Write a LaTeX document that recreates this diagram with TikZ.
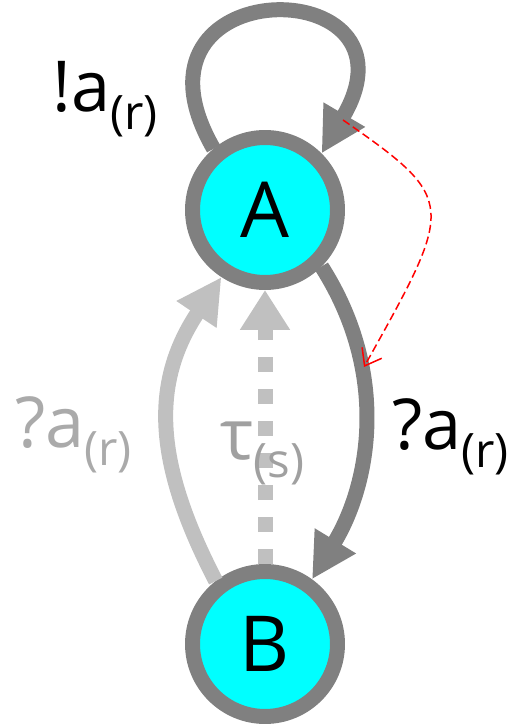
\documentclass[tikz,border=0pt]{standalone}
\usepackage{fontspec}
\setmainfont{Open Sans}
\usetikzlibrary{arrows.meta}

\definecolor{statecyan}{RGB}{0,255,255}
\definecolor{rimgray}{RGB}{128,128,128}
\definecolor{palegray}{RGB}{192,192,192}
\definecolor{labgray}{RGB}{170,170,170}
\definecolor{taugray}{RGB}{160,160,160}

\newcommand{\act}[2]{#1{\fontsize{27}{27}\selectfont\raisebox{-0.36cm}{(#2)}}}

\begin{document}
\begin{tikzpicture}[
    x=0.02cm, y=0.02cm,
    state/.style={circle, draw=rimgray, fill=statecyan, line width=0.3cm,
        minimum size=2.9cm, inner sep=0pt, font=\fontsize{44}{48}\selectfont},
    trans/.style={line width=0.3cm, -{Triangle[length=0.9cm, width=0.9cm]}},
    lbl/.style={anchor=base west, inner sep=0pt, font=\fontsize{40}{44}\selectfont}
]
\useasboundingbox (0,0) rectangle (516,724);

\node[state] (A) at (265,514) {A};
\node[state] (B) at (265,80) {B};

\draw[trans, rimgray] (A.130) .. controls (110,755) and (430,755) .. (A.45);
\draw[trans, rimgray] (A.-45) .. controls (390,350) and (370,240) .. (B.54);
\draw[trans, palegray] (B.128) .. controls (155,260) and (150,340) .. (A.237);
\draw[palegray, line width=0.3cm, dash pattern=on 0.3cm off 0.34cm,
    -{Triangle[length=0.8cm, width=0.95cm]}] (B.north) -- (A.south);

\coordinate (hint start) at (343,604);
\coordinate (hint end) at (364,357);
\draw[red, line width=0.03cm, dash pattern=on 0.16cm off 0.08cm,
    -{Straight Barb[length=0.3cm, width=0.45cm]}]
    (hint start) .. controls (458,524) and (455,520) .. (hint end);

\node[lbl] (loop lab) at (52,612) {\act{!a}{r}};
\node[lbl] (ab lab) at (392,274) {\act{?a}{r}};
\node[lbl, labgray] (ba lab) at (15,276) {\act{?a}{r}};
\node[lbl, taugray] (tau lab) at (220,264) {\act{τ}{s}};
\end{tikzpicture}
\end{document}
